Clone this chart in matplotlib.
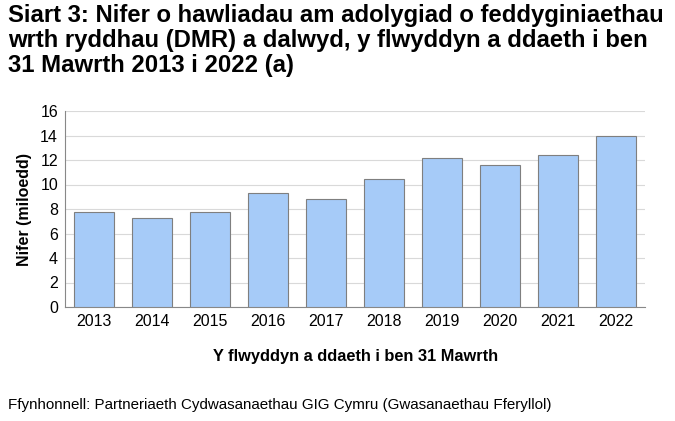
import matplotlib
matplotlib.use("Agg")
import matplotlib.pyplot as plt

years = ["2013","2014","2015","2016","2017","2018","2019","2020","2021","2022"]
values = [7.76, 7.27, 7.76, 9.3, 8.8, 10.45, 12.16, 11.6, 12.4, 13.96]
yticks = [0, 2, 4, 6, 8, 10, 12, 14, 16]

plt.rcParams['font.family'] = ['Liberation Sans', 'DejaVu Sans']
fig = plt.figure(figsize=(6.75, 4.21), dpi=100)
ax = fig.add_axes([65/675, 1-307/421, 580/675, 196/421])
ax.bar(range(len(years)), values, width=0.7, color="#a6cbf8", edgecolor="#7f7f7f", linewidth=0.8, zorder=3)
ax.set_ylim(0, 16)
ax.set_xlim(-0.5, len(years)-0.5)
ax.set_yticks(yticks)
ax.set_xticks(range(len(years)))
ax.set_xticklabels(years)
ax.tick_params(axis='both', labelsize=11.5, length=0, pad=5)
ax.grid(axis='y', color="#d9d9d9", linewidth=0.8, zorder=0)
for s in ['top', 'right']:
    ax.spines[s].set_visible(False)
ax.spines['left'].set_color("#888888")
ax.spines['bottom'].set_color("#888888")
ax.set_ylabel("Nifer (miloedd)", fontsize=11.5, fontweight='bold', labelpad=6)
fig.text(356/675, 1-356/421, "Y flwyddyn a ddaeth i ben 31 Mawrth", ha='center', va='center', fontsize=11.8, fontweight='bold')
fig.text(8/675, 1-4/421, "Siart 3: Nifer o hawliadau am adolygiad o feddyginiaethau\nwrth ryddhau (DMR) a dalwyd, y flwyddyn a ddaeth i ben\n31 Mawrth 2013 i 2022 (a)",
         ha='left', va='top', fontsize=17.2, fontweight='bold', linespacing=1.12)
fig.text(8/675, 1-405/421, "Ffynhonnell: Partneriaeth Cydwasanaethau GIG Cymru (Gwasanaethau Fferyllol)", ha='left', va='center', fontsize=10.9)
fig.savefig("out.png", dpi=100)
